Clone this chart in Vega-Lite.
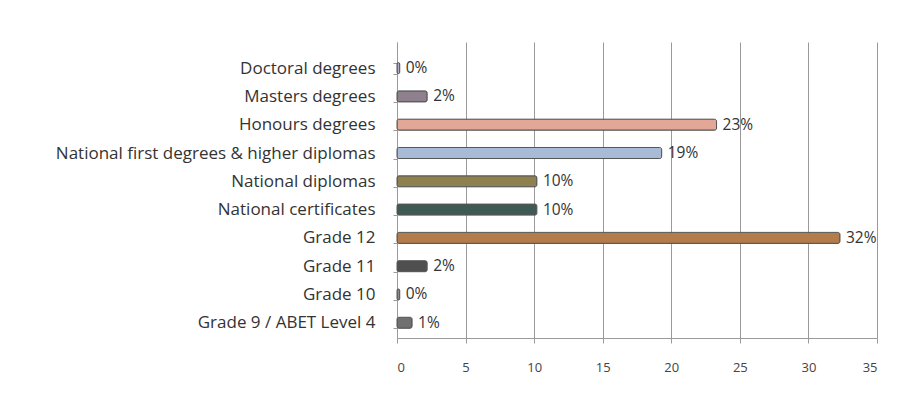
{
  "$schema": "https://vega.github.io/schema/vega-lite/v6.json",
  "width": 480,
  "height": 296,
  "autosize": "none",
  "padding": {"left": 397, "top": 42, "right": 32, "bottom": 63},
  "background": "white",
  "config": {
    "view": {"stroke": null},
    "font": "Open Sans"
  },
  "data": {
    "values": [
      {"level": "Doctoral degrees", "pct": 0.2, "label": "0%", "color": "#b3a9c9"},
      {"level": "Masters degrees", "pct": 2.2, "label": "2%", "color": "#8f808e"},
      {"level": "Honours degrees", "pct": 23.3, "label": "23%", "color": "#e2a797"},
      {"level": "National first degrees & higher diplomas", "pct": 19.3, "label": "19%", "color": "#a8bbd6"},
      {"level": "National diplomas", "pct": 10.2, "label": "10%", "color": "#8f804f"},
      {"level": "National certificates", "pct": 10.2, "label": "10%", "color": "#3f5a55"},
      {"level": "Grade 12", "pct": 32.3, "label": "32%", "color": "#b47b4b"},
      {"level": "Grade 11", "pct": 2.2, "label": "2%", "color": "#4f4f4f"},
      {"level": "Grade 10", "pct": 0.2, "label": "0%", "color": "#8a8a8a"},
      {"level": "Grade 9 / ABET Level 4", "pct": 1.1, "label": "1%", "color": "#707070"}
    ]
  },
  "encoding": {
    "y": {
      "field": "level",
      "type": "nominal",
      "sort": null,
      "scale": {"paddingInner": 0.61, "paddingOuter": 0.535, "align": 0.68},
      "axis": {
        "title": null,
        "labelFont": "Open Sans",
        "labelFontSize": 17,
        "labelColor": "#333333",
        "labelPadding": 18,
        "domainColor": "#9a9a9a",
        "tickColor": "#9a9a9a",
        "tickSize": 4,
        "tickBand": "extent",
        "labelLimit": 400
      }
    },
    "x": {
      "field": "pct",
      "type": "quantitative",
      "scale": {"domain": [0, 35], "nice": false},
      "axis": {
        "title": null,
        "values": [0, 5, 10, 15, 20, 25, 30, 35],
        "labelFont": "Open Sans",
        "labelFontSize": 13,
        "labelColor": "#444444",
        "labelPadding": 18,
        "domainColor": "#9a9a9a",
        "tickColor": "#9a9a9a",
        "tickSize": 5,
        "grid": true,
        "gridColor": "#9a9a9a",
        "gridWidth": 1
      }
    }
  },
  "layer": [
    {
      "mark": {"type": "bar", "stroke": "#555555", "strokeWidth": 1, "cornerRadius": 2},
      "encoding": {
        "color": {"field": "color", "type": "nominal", "scale": null}
      }
    },
    {
      "mark": {"type": "text", "align": "left", "dx": 6, "fontSize": 15.5, "color": "#333333", "font": "Open Sans"},
      "encoding": {
        "text": {"field": "label"}
      }
    }
  ]
}
